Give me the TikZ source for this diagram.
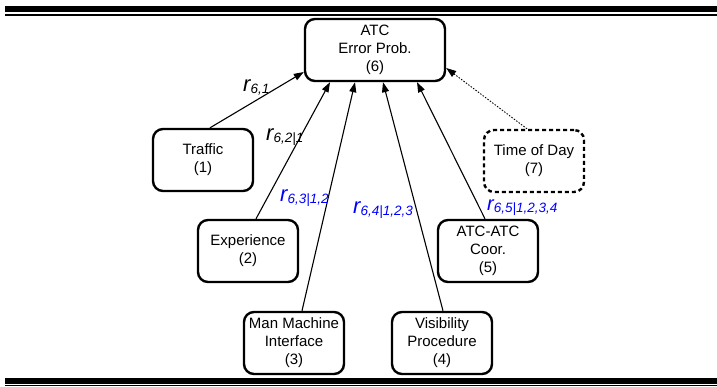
\documentclass[tikz,border=0pt]{standalone}
\usepackage{fontspec}
\setmainfont{Liberation Sans}
\usetikzlibrary{arrows.meta}
\newcommand\rlab[2][22]{{\fontsize{#1}{#1}\selectfont\itshape r}\raisebox{-2.5pt}{\fontsize{13.5}{13.5}\selectfont\itshape #2}}
\begin{document}
\begin{tikzpicture}[x=1pt,y=-1pt,
 box/.style={draw, line width=2.4pt, rounded corners=10pt, minimum width=100pt, minimum height=62pt, align=center, font=\fontsize{15}{18}\selectfont, inner sep=0pt},
 conn/.style={line width=1.1pt, -{Triangle[length=10pt,width=7pt]}},
 lab/.style={inner sep=0pt, anchor=base west},
 dashbox/.style={dash pattern=on 4pt off 3pt}]
\useasboundingbox (0,0) rectangle (717,386);
% rules
\fill (5,6) rectangle (717,12);
\fill (5,13.5) rectangle (717,15.6);
\fill (5,378) rectangle (717,383.7);
\fill (5,384.7) rectangle (717,386);
% nodes
\node[box, minimum width=140pt] (atc) at (375,50) {ATC\\Error Prob.\\(6)};
\node[box] (tr) at (203,160) {Traffic\\(1)};
\node[box] (ex) at (248,251) {Experience\\(2)};
\node[box] (mm) at (294,343) {Man Machine\\Interface\\(3)};
\node[box] (vp) at (442,343) {Visibility\\Procedure\\(4)};
\node[box] (ac) at (488,251) {ATC-ATC\\Coor.\\(5)};
\node[box, dashbox] (td) at (534,161) {Time of Day\\(7)};
% connectors
\draw[conn] ([xshift=7pt]tr.north) -- ([yshift=-22pt]atc.west);
\draw[conn] ([xshift=8pt]ex.north) -- ([xshift=-45pt]atc.south);
\draw[conn] ([xshift=8pt]mm.north) -- ([xshift=-20pt]atc.south);
\draw[conn] ([xshift=1pt]vp.north) -- ([xshift=8pt]atc.south);
\draw[conn] ([xshift=-3pt]ac.north) -- ([xshift=42pt]atc.south);
\draw[conn, line width=0.9pt, dash pattern=on 1.5pt off 1.5pt] ([xshift=-7pt]td.north) -- ([yshift=-18pt]atc.east);
% labels
\node[lab] (l1) at (243,91) {\rlab{6,1}};
\node[lab] (l2) at (266,140) {\rlab{6,2|1}};
\node[lab, text=blue] (l3) at (280,201) {\rlab{6,3|1,2}};
\node[lab, text=blue] (l4) at (353,213) {\rlab{6,4|1,2,3}};
\node[lab, text=blue] (l5) at (487,210) {\rlab[20]{6,5|1,2,3,4}};
\end{tikzpicture}
\end{document}
